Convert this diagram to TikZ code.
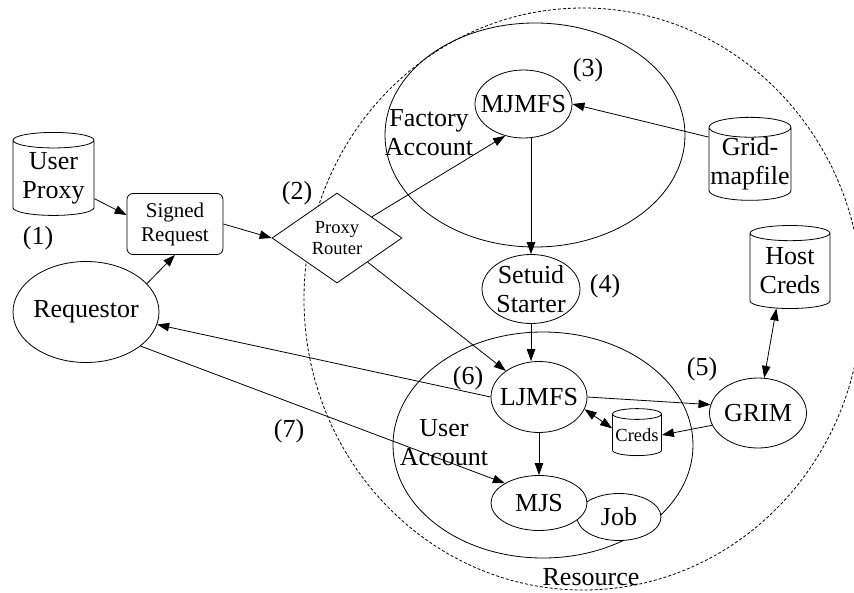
\documentclass[tikz,border=0pt]{standalone}
\usepackage{fontspec}
\setmainfont{Liberation Serif}
\usepackage{tikz}
\usetikzlibrary{shapes.geometric}
\usetikzlibrary{calc,arrows.meta}
\def\lineThickness{(0.8pt)}
\def\bigFont{\fontsize{26}{29}\selectfont}
\def\midFont{\fontsize{21}{24}\selectfont}
\def\smallFont{\fontsize{18.5}{21}\selectfont}
\def\tipLen{12pt}
\def\tipWid{8.5pt}
\tikzset{proc/.style={draw=black,line width=\lineThickness,fill=white,ellipse,inner sep=-10pt,align=center,font=\bigFont}}
\tikzset{acct/.style={draw=black,line width=\lineThickness,ellipse,inner sep=0}}
\tikzset{store/.style={draw=black,line width=\lineThickness,fill=white,cylinder,shape border rotate=90,aspect=0.25,inner sep=0,align=center,font=\bigFont}}
\tikzset{flow/.style={black,line width=\lineThickness,-{Triangle[length=\tipLen,width=\tipWid]}}}
\tikzset{flows/.style={black,line width=\lineThickness,{Triangle[length=\tipLen,width=\tipWid]}-{Triangle[length=\tipLen,width=\tipWid]}}}
\tikzset{lbl/.style={font=\bigFont,inner sep=0,align=center}}

\begin{document}
\begin{tikzpicture}[x=1pt,y=-1pt]
\useasboundingbox (0,0) rectangle (854,592);
\node[acct,dash pattern=on 3pt off 2pt,minimum width=558,minimum height=582] (res) at (583,299) {};
\node[acct,minimum width=300,minimum height=224] (fact) at (535,135) {};
\node[acct,minimum width=300,minimum height=226] (uacct) at (543,445) {};
\node[lbl] (factlbl) at (429,133) {Factory\\Account};
\node[lbl] (uacctlbl) at (444,443) {User\\Account};
\node[lbl] (reslbl) at (591,577) {Resource};
% stores
\node[store,minimum width=81,minimum height=83] (uproxy) at (53.5,178) {User\\Proxy};
\node[store,minimum width=82,minimum height=83] (gmap) at (750,164) {Grid-\\mapfile};
\node[store,minimum width=80,minimum height=83] (hcreds) at (790,271) {Host\\Creds};
\node[store,minimum width=49,minimum height=47,font=\smallFont] (creds) at (637,435) {Creds};
% requestor side
\node[proc,minimum width=146,minimum height=101] (req) at (86,312) {Requestor};
\node[draw=black,line width=\lineThickness,fill=white,rounded corners=6pt,minimum width=96,minimum height=61,inner sep=0,align=center,font=\midFont] (sreq) at (175,224) {Signed\\Request};
\node[draw=black,line width=\lineThickness,fill=white,diamond,aspect=1.44,minimum width=130,minimum height=90,inner sep=0,align=center,font=\smallFont] (prouter) at (337,238) {Proxy\\Router};
% resource side
\node[proc,minimum width=97,minimum height=68] (mjmfs) at (523.5,104) {MJMFS};
\node[proc,minimum width=98,minimum height=69] (setuid) at (531,289) {Setuid\\Starter};
\node[proc,minimum width=96,minimum height=71] (ljmfs) at (539,397) {LJMFS};
\node[proc,minimum width=97,minimum height=70] (grim) at (758,413) {GRIM};
\node[proc,minimum width=84,minimum height=47] (job) at (619,517) {Job};
\node[proc,minimum width=96,minimum height=55] (mjs) at (539,503) {MJS};
% step numbers
\node[lbl] (num1) at (38,238) {(1)};\node[lbl] (num2) at (297,193) {(2)};\node[lbl] (num3) at (588,70) {(3)};
\node[lbl] (num4) at (605,286) {(4)};\node[lbl] (num5) at (702,369) {(5)};\node[lbl] (num6) at (468,378) {(6)};
\node[lbl] (num7) at (289,431) {(7)};
% connectors
\draw[flow] (uproxy) -- ($(sreq.west)+(0,-9)$);
\draw[flow] (req.25) -- (sreq.south);
\draw[flow] (sreq.east) -- (prouter.west);
\draw[flow] (prouter) -- (mjmfs.240);
\draw[flow] (prouter) -- (ljmfs);
\draw[flow] (gmap.147) -- (mjmfs.east);
\draw[flow] (mjmfs.south -| setuid) -- (setuid);
\draw[flow] (setuid) -- (setuid |- ljmfs.north);
\draw[flow] (ljmfs.west) -- (req.-10);
\draw[flow] (req.-32) -- (mjs.150);
\draw[flow] (ljmfs.east) -- (grim.170);
\draw[flow] (grim.195) -- (creds.east);
\draw[flows] (ljmfs.-15) -- (creds.165);
\draw[flow] (ljmfs) -- (mjs);
\draw[flows] (hcreds.250) -- (grim.80);
\end{tikzpicture}
\end{document}
